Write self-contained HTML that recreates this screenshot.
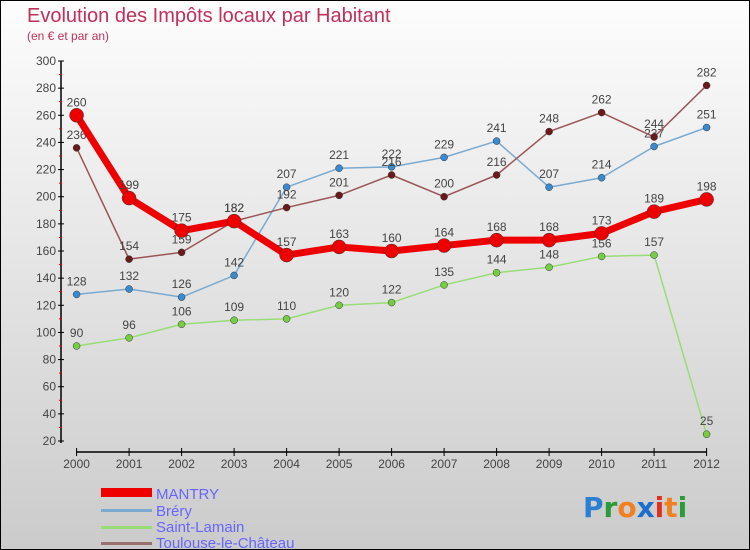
<!DOCTYPE html>
<html><head><meta charset="utf-8"><style>
body{margin:0;}
#c{width:750px;height:550px;position:relative;box-sizing:border-box;border:1px solid #000;background:linear-gradient(#fdfdfd,#cbcbcb);overflow:hidden;font-family:"Liberation Sans",sans-serif;}
</style></head><body>
<div id="c">
<svg id="s" width="750" height="550" style="position:absolute;left:0;top:0">
<text x="26" y="21" font-size="20" fill="#c0305a">Evolution des Impôts locaux par Habitant</text>
<text x="26" y="39" font-size="12" fill="#c0305a">(en € et par an)</text>
<g id="axes"></g><g id="series"></g>
<g>
<rect x="100" y="487" width="51" height="9" fill="#e00"/>
<text x="155" y="498" font-size="15" fill="#6666ff">MANTRY</text>
<rect x="100" y="508" width="51" height="3" fill="#7aaad0"/>
<text x="155" y="515" font-size="15" fill="#6666ff">Bréry</text>
<rect x="100" y="525" width="51" height="3" fill="#99dd77"/>
<text x="155" y="531" font-size="15" fill="#6666ff">Saint-Lamain</text>
<rect x="100" y="541" width="51" height="3" fill="#997070"/>
<text x="155" y="547" font-size="15" fill="#6666ff">Toulouse-le-Château</text>
</g>
<g font-size="28" font-weight="bold" font-family="'DejaVu Sans',sans-serif">
<text x="582" y="516"><tspan fill="#2a7fd0">P</tspan><tspan fill="#2a9a3a">r</tspan><tspan fill="#f08020">o</tspan><tspan fill="#1a6fd0">x</tspan><tspan fill="#e03020">i</tspan><tspan fill="#f08020">t</tspan><tspan fill="#2a9a3a">i</tspan></text>
</g>
</svg>
</div>
<script>
const years=["2000","2001","2002","2003","2004","2005","2006","2007","2008","2009","2010","2011","2012"];
const yTicks=[20,40,60,80,100,120,140,160,180,200,220,240,260,280,300];
const mantry=[260,199,175,182,157,163,160,164,168,168,173,189,198];
const brery=[128,132,126,142,207,221,222,229,241,207,214,237,251];
const saintLamain=[90,96,106,109,110,120,122,135,144,148,156,157,25];
const toulouse=[236,154,159,182,192,201,216,200,216,248,262,244,282];
const NS="http://www.w3.org/2000/svg";
function X(i){return 75.6+i*52.5;}
function Y(v){return 440-(v-20)*380/280;}
function mk(t,a,p){const e=document.createElementNS(NS,t);for(const k in a)e.setAttribute(k,a[k]);p.appendChild(e);return e;}
const ax=document.getElementById('axes');
let l=mk('line',{x1:60,y1:Y(300),x2:60,y2:442,stroke:'#000','stroke-width':1.5},ax);


yTicks.forEach(v=>{
 mk('line',{x1:57,x2:63,y1:Y(v),y2:Y(v),stroke:'#000'},ax);
 if(v<300) mk('line',{x1:58,x2:61,y1:Y(v+10),y2:Y(v+10),stroke:'#e00'},ax);
 const t=mk('text',{x:55,y:Y(v)+4,'text-anchor':'end','font-size':12,fill:'#444'},ax);t.textContent=v;
 
 
});
l=mk('line',{x1:75,y1:451,x2:706,y2:451,stroke:'#000','stroke-width':1.5},ax);


years.forEach((y,i)=>{
 mk('line',{x1:X(i),x2:X(i),y1:447,y2:455,stroke:'#000'},ax);
 const t=mk('text',{x:X(i),y:467,'text-anchor':'middle','font-size':12,fill:'#444'},ax);t.textContent=y;
 
 
});
const sg=document.getElementById('series');
function draw(data,name,col,w,r,dot){
 const g=mk('g',{},sg);
 
 
 const pl=mk('polyline',{points:data.map((v,i)=>X(i)+','+Y(v)).join(' '),fill:'none',stroke:col,'stroke-width':w,'stroke-linejoin':'round'},g);
 
 
 data.forEach((v,i)=>{
  const c=mk('circle',{cx:X(i),cy:Y(v),r:r,fill:dot,stroke:'#333','stroke-width':0.5},g);
  
  
  const t=mk('text',{x:X(i),y:Y(v)-9,'text-anchor':'middle','font-size':12,fill:'#444'},g);t.textContent=v;
  
  
 });
}
draw(brery,'brery','#7aaad0',1.5,3.5,'#3a8ad0');
draw(saintLamain,'saint-lamain','#99dd77',1.5,3.5,'#77cc44');
draw(toulouse,'toulouse','#995555',1.5,3.5,'#6a1a1a');
draw(mantry,'mantry','#ee0000',7,7,'#ee0000');
</script>
</body></html>
